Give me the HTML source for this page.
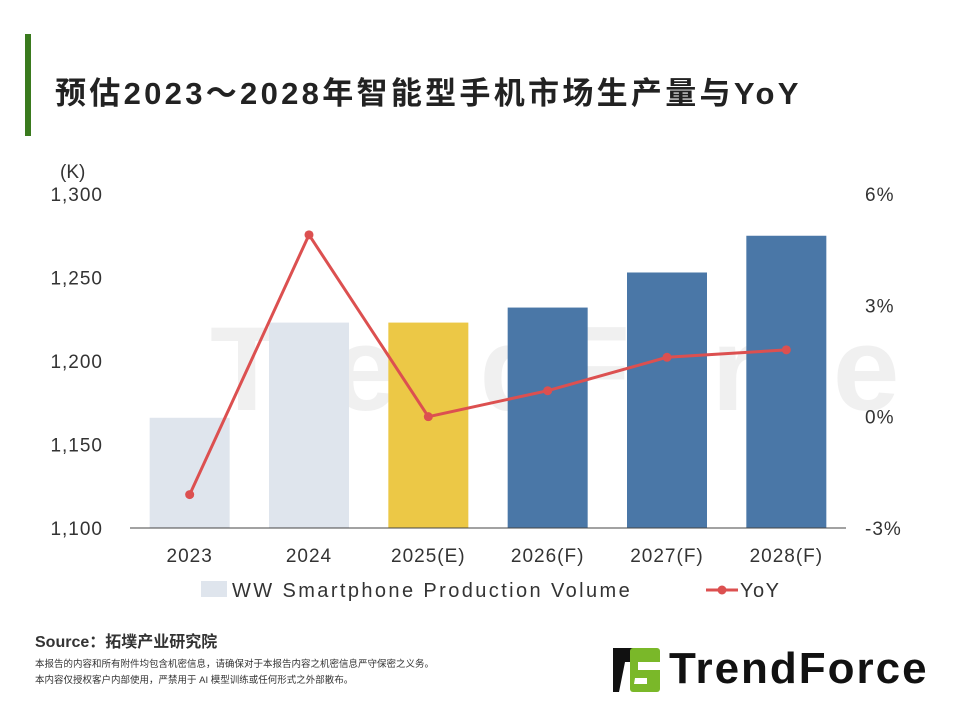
<!DOCTYPE html>
<html><head><meta charset="utf-8"><style>
body{margin:0;width:960px;height:720px;background:#fff;overflow:hidden;position:relative;font-family:"Liberation Sans","Noto Sans CJK SC",sans-serif}
.abs{position:absolute}
</style></head><body>
<div class="abs" style="left:25px;top:34px;width:6px;height:102px;background:#3a7a1e"></div>
<div class="abs" style="left:55px;top:68px;font-size:31px;font-weight:bold;color:#222;letter-spacing:3.3px">预估2023～2028年智能型手机市场生产量与YoY</div>
<svg class="abs" style="left:0;top:0" width="960" height="720" id="chart"></svg>
<div class="abs" style="left:35px;top:628px;font-size:16px;font-weight:bold;color:#333">Source：拓墣产业研究院</div>
<div class="abs" style="left:35px;top:657px;font-size:9.5px;color:#333;line-height:16px">本报告的内容和所有附件均包含机密信息，请确保对于本报告内容之机密信息严守保密之义务。<br>本内容仅授权客户内部使用，严禁用于 AI 模型训练或任何形式之外部散布。</div>
<div class="abs" style="left:613px;top:648px;width:340px;height:46px">
<svg width="50" height="46" style="position:absolute;left:0;top:0"><polygon points="0,0 26,0 22,14 12,14 6,44 0,44" fill="#111"/><rect x="17" y="0" width="30" height="44" rx="3" fill="#7ab829"/><polygon points="25,14 47,14 47,22 25,22" fill="#fff"/><polygon points="22,30 34,30 34,36 21,36" fill="#fff"/></svg>
<div style="position:absolute;left:56px;top:-4px;font-size:44px;font-weight:bold;color:#111;letter-spacing:2px">TrendForce</div>
</div>
<script>
const categories=["2023","2024","2025(E)","2026(F)","2027(F)","2028(F)"];
const volumes=[1166,1223,1223,1232,1253,1275];
const yoy=[-2.1,4.9,0.0,0.7,1.6,1.8];
const leftTicks=[1100,1150,1200,1250,1300];
const rightTicks=[-3,0,3,6];
const barColors=["#dfe5ed","#dfe5ed","#ecc846","#4a77a7","#4a77a7","#4a77a7"];
const svg=document.getElementById('chart');const NS="http://www.w3.org/2000/svg";
function mk(t,a,p){const e=document.createElementNS(NS,t);for(const k in a)e.setAttribute(k,a[k]);(p||svg).appendChild(e);return e;}
const x0=130,x1=846,yB=528,yT=194;
const yL=v=>yB-(v-1100)/200*(yB-yT);
const yR=v=>yB-(v+3)/9*(yB-yT);
const step=(x1-x0)/categories.length;
const xc=i=>x0+step*(i+0.5);
let wm=mk('text',{x:210,y:410,'font-size':120,'font-weight':'bold',fill:'#000','fill-opacity':0.06,'font-family':'Liberation Sans','letter-spacing':4});wm.textContent='TrendForce';

leftTicks.forEach(v=>{const t=mk('text',{x:103,y:yL(v)+7,'text-anchor':'end','font-size':19,fill:'#333','letter-spacing':1});t.textContent=v.toLocaleString('en-US');
});
rightTicks.forEach(v=>{const t=mk('text',{x:865,y:yR(v)+7,'font-size':19,fill:'#333','letter-spacing':1});t.textContent=v+'%';
});
const u=mk('text',{x:60,y:178,'font-size':19,fill:'#333'});u.textContent='(K)';

volumes.forEach((v,i)=>{const r=mk('rect',{x:xc(i)-40,y:yL(v),width:80,height:yB-yL(v),fill:barColors[i]});

const t=mk('text',{x:xc(i),y:562,'text-anchor':'middle','font-size':19,fill:'#333','letter-spacing':1});t.textContent=categories[i];
});
const ax=mk('line',{x1:x0,x2:x1,y1:yB,y2:yB,stroke:'#444','stroke-width':1});

const pl=mk('polyline',{points:yoy.map((v,i)=>xc(i)+','+yR(v)).join(' '),fill:'none',stroke:'#dc5050','stroke-width':3});

yoy.forEach((v,i)=>{const c=mk('circle',{cx:xc(i),cy:yR(v),r:4.5,fill:'#dc5050'});
});
const lr=mk('rect',{x:201,y:581,width:26,height:16,fill:'#dfe5ed'});
const lt=mk('text',{x:232,y:597,'font-size':20,fill:'#333','letter-spacing':2.4});lt.textContent='WW Smartphone Production Volume';
const ll=mk('line',{x1:706,x2:738,y1:590,y2:590,stroke:'#dc5050','stroke-width':3});
const lc=mk('circle',{cx:722,cy:590,r:4.5,fill:'#dc5050'});
const lt2=mk('text',{x:740,y:597,'font-size':20,fill:'#333','letter-spacing':1.5});lt2.textContent='YoY';
</script>
</body></html>
